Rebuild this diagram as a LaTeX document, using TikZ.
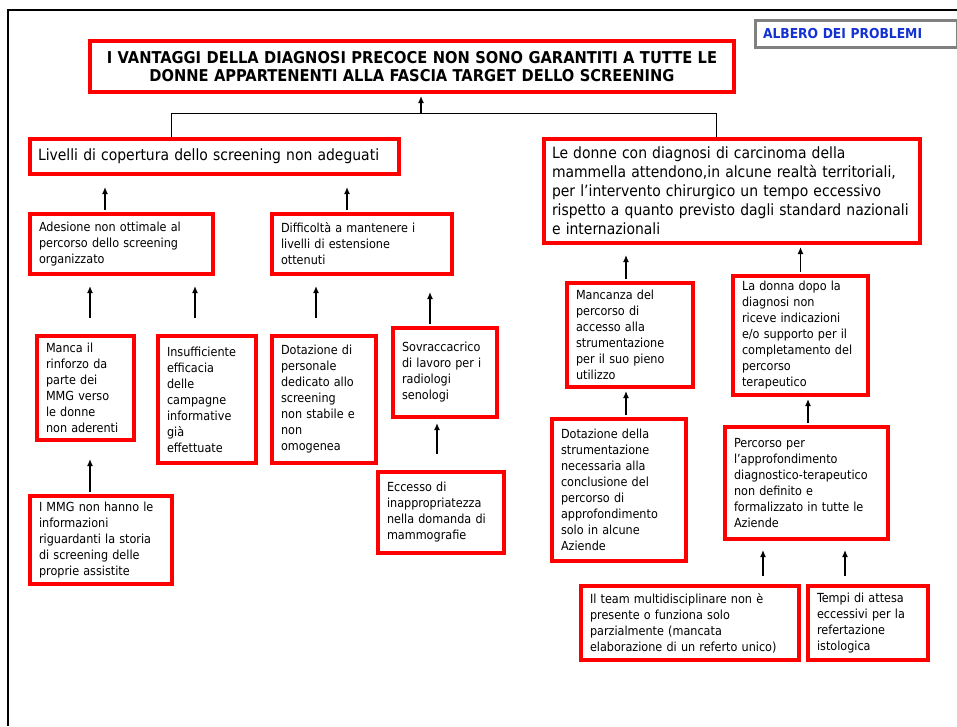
\documentclass[tikz,border=0pt]{standalone}
\usepackage{fontspec}
\IfFontExistsTF{DejaVu Sans Condensed}{\setmainfont{DejaVu Sans Condensed}}{\setmainfont{DejaVu Sans}[Scale=0.9]}
\usetikzlibrary{arrows.meta, positioning}
\definecolor{probred}{RGB}{255,0,0}
\definecolor{labelblue}{RGB}{20,50,210}
\definecolor{labelgray}{RGB}{128,128,128}

\begin{document}
\begin{tikzpicture}[
    x=1pt, y=-1pt,
    prob/.style={rectangle, draw=probred, line width=4pt, fill=white, anchor=north west, align=left, inner xsep=9pt, inner ysep=2pt, font=\fontsize{12.5}{16}\selectfont},
    probbig/.style={prob, inner xsep=8pt, font=\fontsize{15.5}{19}\selectfont},
    arrow/.style={-{Latex[length=7pt,width=6pt]}, line width=1.3pt}
]
    \useasboundingbox (0,0) rectangle (957,726);
    % frame
    \draw[line width=2.5pt] (8,726) -- (8,10) -- (957,10);

    % label
    \node[rectangle, draw=labelgray, line width=3pt, anchor=north west, align=left, inner xsep=8pt, text width=186pt, minimum height=27pt, font=\bfseries\fontsize{13.7}{16}\selectfont, text=labelblue] (albero) at (753.5,18.5) {ALBERO DEI PROBLEMI};

    % Root problem
    \node[prob, align=center, text width=626pt, minimum height=51pt, font=\bfseries\fontsize{16.3}{18}\selectfont] (title) at (88,39) {I VANTAGGI DELLA DIAGNOSI PRECOCE NON SONO GARANTITI A TUTTE LE\\DONNE APPARTENENTI ALLA FASCIA TARGET DELLO SCREENING};

    % Level 1
    \node[probbig, text width=353pt, minimum height=35pt] (livelli) at (28,137) {Livelli di copertura dello screening non adeguati};
    \node[probbig, text width=360pt, minimum height=104pt] (ledonne) at (542,137) {Le donne con diagnosi di carcinoma della\\mammella attendono,in alcune realtà territoriali,\\per l’intervento chirurgico un tempo eccessivo\\rispetto a quanto previsto dagli standard nazionali\\e internazionali};

    % Level 2, left
    \node[prob, text width=165pt, minimum height=60pt] (adesione) at (28,212) {Adesione non ottimale al\\percorso dello screening\\organizzato};
    \node[prob, text width=162pt, minimum height=60pt] (difficolta) at (270,212) {Difficoltà a mantenere i\\livelli di estensione\\ottenuti};

    % Level 3, left
    \node[prob, text width=79pt, minimum height=104pt] (manca) at (35,334) {Manca il\\rinforzo da\\parte dei\\MMG verso\\le donne\\non aderenti};
    \node[prob, text width=80pt, minimum height=127pt] (insuff) at (156,334) {Insufficiente\\efficacia\\delle\\campagne\\informative\\già\\effettuate};
    \node[prob, text width=86pt, minimum height=127pt] (dotpers) at (270,334) {Dotazione di\\personale\\dedicato allo\\screening\\non stabile e\\non\\omogenea};
    \node[prob, text width=86pt, minimum height=89pt] (sovracc) at (391,326) {Sovraccacrico\\di lavoro per i\\radiologi\\senologi};

    % Level 4, left
    \node[prob, text width=124pt, minimum height=88pt] (immg) at (28,494) {I MMG non hanno le\\informazioni\\riguardanti la storia\\di screening delle\\proprie assistite};
    \node[prob, text width=108pt, minimum height=81pt] (eccesso) at (376,470) {Eccesso di\\inappropriatezza\\nella domanda di\\mammografie};

    % Right branch
    \node[prob, text width=108pt, minimum height=104pt] (mancanza) at (565,281) {Mancanza del\\percorso di\\accesso alla\\strumentazione\\per il suo pieno\\utilizzo};
    \node[prob, text width=117pt, minimum height=119pt] (ladonna) at (731,274) {La donna dopo la\\diagnosi non\\riceve indicazioni\\e/o supporto per il\\completamento del\\percorso\\terapeutico};
    \node[prob, text width=116pt, minimum height=142pt] (dotstrum) at (550,417) {Dotazione della\\strumentazione\\necessaria alla\\conclusione del\\percorso di\\approfondimento\\solo in alcune\\Aziende};
    \node[prob, text width=145pt, minimum height=112pt] (percorso) at (723,425) {Percorso per\\l’approfondimento\\diagnostico-terapeutico\\non definito e\\formalizzato in tutte le\\Aziende};
    \node[prob, text width=200pt, minimum height=74pt] (team) at (579,584) {Il team multidisciplinare non è\\presente o funziona solo\\parzialmente (mancata\\elaborazione di un referto unico)};
    \node[prob, text width=102pt, minimum height=74pt] (tempi) at (806,584) {Tempi di attesa\\eccessivi per la\\refertazione\\istologica};

    % Connections to the root
    \coordinate (jl) at (171,113);
    \coordinate (jr) at (716,113);
    \coordinate (jm) at (421,113);
    \draw[line width=1pt] (livelli.north -| jl) -- (jl) -- (jr) -- (ledonne.north -| jr);
    \draw[arrow, shorten >=2pt] (jm) -- (jm |- title.south);

    % Left branch
    \draw[arrow, shorten <=2pt, shorten >=11pt] ([xshift=-16.5pt]adesione.north) -- ([xshift=-16.5pt]adesione.north |- livelli.south);
    \draw[arrow, shorten <=2pt, shorten >=11pt] ([xshift=-15pt]difficolta.north) -- ([xshift=-15pt]difficolta.north |- livelli.south);
    \draw[arrow, shorten <=16pt, shorten >=10pt] ([xshift=4.5pt]manca.north) -- ([xshift=4.5pt]manca.north |- adesione.south);
    \draw[arrow, shorten <=16pt, shorten >=10pt] ([xshift=-12pt]insuff.north) -- ([xshift=-12pt]insuff.north |- adesione.south);
    \draw[arrow, shorten <=16pt, shorten >=10pt] ([xshift=-8pt]dotpers.north) -- ([xshift=-8pt]dotpers.north |- difficolta.south);
    \draw[arrow, shorten <=2pt, shorten >=16pt] ([xshift=-15pt]sovracc.north) -- ([xshift=-15pt]sovracc.north |- difficolta.south);
    \draw[arrow, shorten <=16pt, shorten >=4pt] ([xshift=-4pt]eccesso.north) -- ([xshift=-4pt]eccesso.north |- sovracc.south);
    \draw[arrow, shorten <=2pt, shorten >=17pt] ([xshift=-11pt]immg.north) -- ([xshift=-11pt]immg.north |- manca.south);

    % Right branch
    \draw[arrow, shorten <=2pt, shorten >=10pt] ([xshift=-4pt]mancanza.north) -- ([xshift=-4pt]mancanza.north |- ledonne.south);
    \draw[arrow, shorten <=2pt, shorten >=2pt] (ladonna.north) -- (ladonna.north |- ledonne.south);
    \draw[arrow, shorten <=2pt, shorten >=2pt] ([xshift=7pt]dotstrum.north) -- ([xshift=7pt]dotstrum.north |- mancanza.south);
    \draw[arrow, shorten <=2pt, shorten >=2pt] ([xshift=1.5pt]percorso.north) -- ([xshift=1.5pt]percorso.north |- ladonna.south);
    \draw[arrow, shorten <=8pt, shorten >=9pt] ([xshift=73pt]team.north) -- ([xshift=73pt]team.north |- percorso.south);
    \draw[arrow, shorten <=8pt, shorten >=9pt] ([xshift=-23pt]tempi.north) -- ([xshift=-23pt]tempi.north |- percorso.south);
\end{tikzpicture}
\end{document}
